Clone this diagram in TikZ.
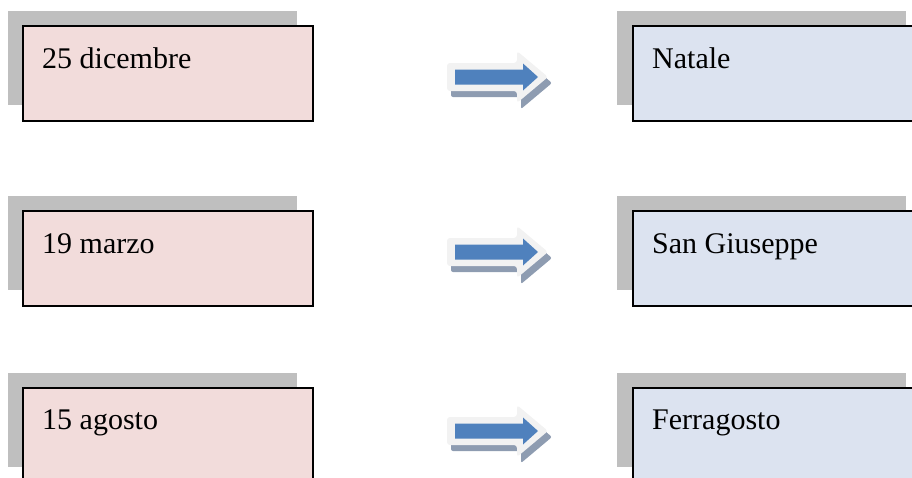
\documentclass[tikz,border=0pt]{standalone}
\usepackage{fontspec}
\setmainfont{Liberation Serif}
\begin{document}
\begin{tikzpicture}[x=1pt,y=-1pt,
  shadowbox/.style={fill=shadowgrey,draw=none,anchor=north west,inner sep=0pt,minimum width=289pt,minimum height=94pt},
  datebox/.style={fill=pinkfill,draw=black,line width=1.5pt,anchor=north west,inner sep=0pt,minimum width=290pt,minimum height=95pt},
  feastbox/.style={fill=bluefill,draw=black,line width=1.5pt,anchor=north west,inner sep=0pt,minimum width=300pt,minimum height=95pt},
  label/.style={anchor=base west,inner sep=0pt,font=\fontsize{30}{36}\selectfont},
  arrowshadow/.style={fill=arrowshade,draw=none,rounded corners=2pt},
  arrowglow/.style={fill=glowgrey,draw=none,rounded corners=3pt},
  arrowcore/.style={fill=arrowblue,draw=none}
]
\definecolor{shadowgrey}{HTML}{BFBFBF}
\definecolor{pinkfill}{HTML}{F2DCDB}
\definecolor{bluefill}{HTML}{DCE3F0}
\definecolor{arrowshade}{HTML}{8E9CB1}
\definecolor{glowgrey}{HTML}{F2F2F2}
\definecolor{arrowblue}{HTML}{4F81BD}
\useasboundingbox (0,0) rectangle (912,477);
\clip (0,0) rectangle (912,477);

% row 1
\node[shadowbox] (s1l) at (8,11) {};
\node[datebox] (d1) at (22,25) {};
\node[label] (t1l) at (42,68) {25 dicembre};
\node[shadowbox] (s1r) at (617,11) {};
\node[feastbox] (f1) at (632,25) {};
\node[label] (t1r) at (652,68) {Natale};

% row 2
\node[shadowbox] (s2l) at (8,196) {};
\node[datebox] (d2) at (22,210) {};
\node[label] (t2l) at (42,253) {19 marzo};
\node[shadowbox] (s2r) at (617,196) {};
\node[feastbox] (f2) at (632,210) {};
\node[label] (t2r) at (652,253) {San Giuseppe};

% row 3
\node[shadowbox] (s3l) at (8,373) {};
\node[datebox] (d3) at (22,387) {};
\node[label] (t3l) at (42,429) {15 agosto};
\node[shadowbox] (s3r) at (617,373) {};
\node[feastbox] (f3) at (632,387) {};
\node[label] (t3r) at (652,429) {Ferragosto};

% block arrows
\foreach \cy/\nm in {77/a1,252/a2,431/a3}{
  \coordinate (\nm) at (447,\cy);
  \begin{scope}[shift={(\nm)}]
    \fill[arrowshadow] (4,-14+6) -- (70+4,-14+6) -- (70+4,-26+6) -- (101+4,0+6) -- (70+4,26+6) -- (70+4,14+6) -- (4,14+6) -- cycle;
    \fill[arrowglow] (0,-14) -- (70,-14) -- (70,-26) -- (101,0) -- (70,26) -- (70,14) -- (0,14) -- cycle;
    \fill[arrowcore] (8,-7.5) -- (76,-7.5) -- (76,-13.5) -- (91,0) -- (76,13.5) -- (76,7.5) -- (8,7.5) -- cycle;
  \end{scope}
}
\end{tikzpicture}
\end{document}
